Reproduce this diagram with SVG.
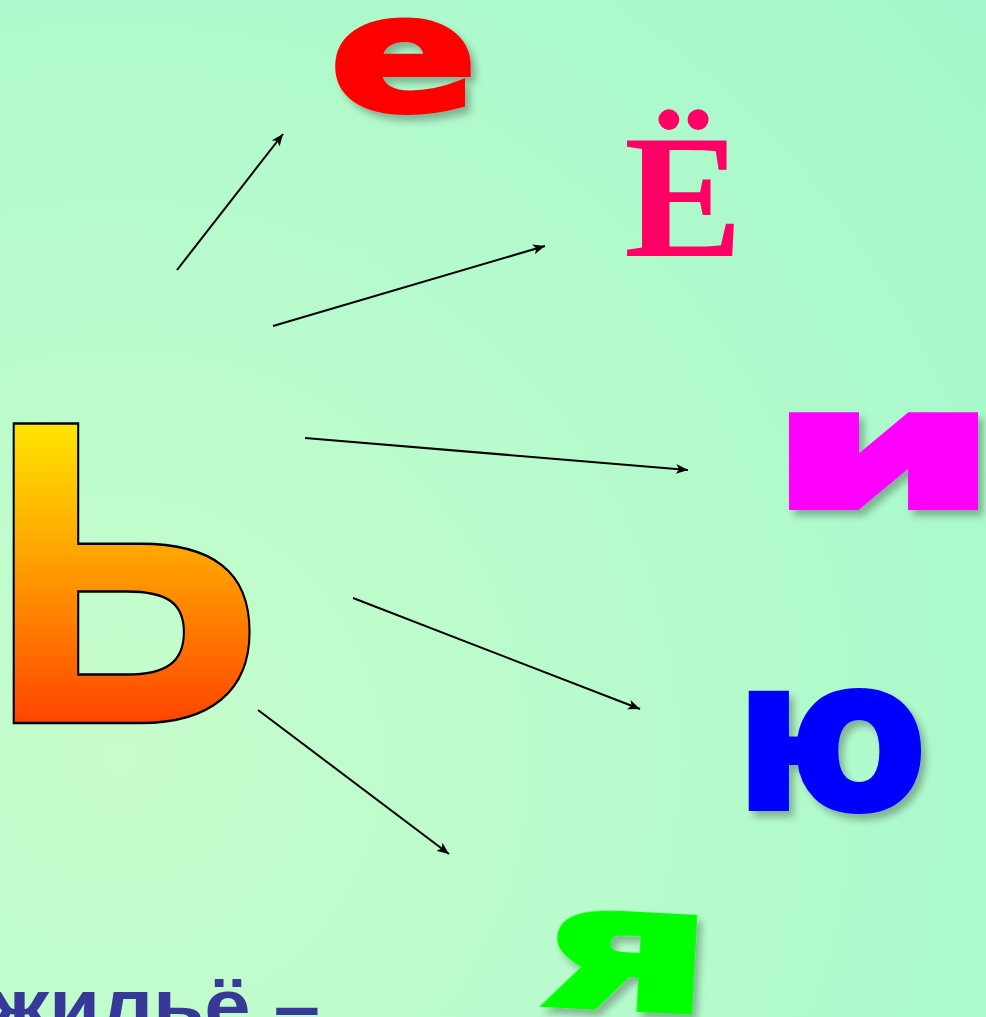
<svg xmlns="http://www.w3.org/2000/svg" width="986" height="1017" viewBox="0 0 986 1017">
<defs>
<radialGradient id="bg" cx="120" cy="760" r="1150" gradientUnits="userSpaceOnUse">
<stop offset="0" stop-color="#c8fdcc"/>
<stop offset="1" stop-color="#a2f8cc"/>
</radialGradient>
<linearGradient id="soft" x1="0" y1="422" x2="0" y2="723" gradientUnits="userSpaceOnUse">
<stop offset="0" stop-color="#ffe600"/>
<stop offset="0.5" stop-color="#ff9a00"/>
<stop offset="1" stop-color="#ff4400"/>
</linearGradient>
<filter id="sh" x="-20%" y="-20%" width="150%" height="150%">
<feDropShadow dx="5" dy="6" stdDeviation="3.5" flood-color="#000" flood-opacity="0.28"/>
</filter>
<marker id="ah" markerUnits="userSpaceOnUse" markerWidth="14" markerHeight="10" refX="12" refY="5" orient="auto">
<path d="M0,0 L12,5 L0,10 L3,5 z" fill="#000"/>
</marker>
<style>
.cn line{stroke:#000;stroke-width:2;marker-end:url(#ah)}
.blk{font-family:"DejaVu Sans",sans-serif;font-weight:bold;stroke-width:6;stroke-linejoin:miter}
.lib{font-family:"Liberation Sans",Arial,sans-serif;font-weight:bold}
</style>
</defs>
<rect width="986" height="1017" fill="url(#bg)"/>
<g id="soft-sign">
<text class="lib" x="-19" y="723" font-size="567" textLength="288" lengthAdjust="spacingAndGlyphs" fill="url(#soft)" stroke="#000" stroke-width="2.5">ь</text>
</g>
<g id="e">
<text class="blk" x="330" y="110" font-size="158" textLength="147" lengthAdjust="spacingAndGlyphs" fill="#ff0000" stroke="#ff0000" filter="url(#sh)">е</text>
</g>
<g id="yo">
<text x="624" y="256" font-family="Liberation Serif,'Times New Roman',serif" font-weight="bold" font-size="176" textLength="119" lengthAdjust="spacingAndGlyphs" fill="#ff0066">Ё</text>
</g>
<g id="i">
<text class="blk" x="767" y="507" font-size="168" textLength="233" lengthAdjust="spacingAndGlyphs" fill="#ff00ff" stroke="#ff00ff" filter="url(#sh)">и</text>
</g>
<g id="yu">
<text class="blk" x="735" y="808" font-size="208" textLength="192" lengthAdjust="spacingAndGlyphs" fill="#0000ff" stroke="#0000ff" filter="url(#sh)">ю</text>
</g>
<g id="ya">
<text class="blk" x="542" y="1008" font-size="172" textLength="170" lengthAdjust="spacingAndGlyphs" fill="#00ff00" stroke="#00ff00" filter="url(#sh)" transform="rotate(3 621 960)">я</text>
</g>
<g id="caption">
<text class="lib" x="-10" y="1031" font-size="74" textLength="330" lengthAdjust="spacingAndGlyphs" fill="#383898">жильё –</text>
</g>
<g class="cn" id="connectors">
<line x1="177" y1="270" x2="283" y2="134"/>
<line x1="273" y1="326" x2="545" y2="246"/>
<line x1="305" y1="438" x2="688" y2="470"/>
<line x1="353" y1="598" x2="640" y2="709"/>
<line x1="258" y1="710" x2="449" y2="854"/>
</g>
</svg>
